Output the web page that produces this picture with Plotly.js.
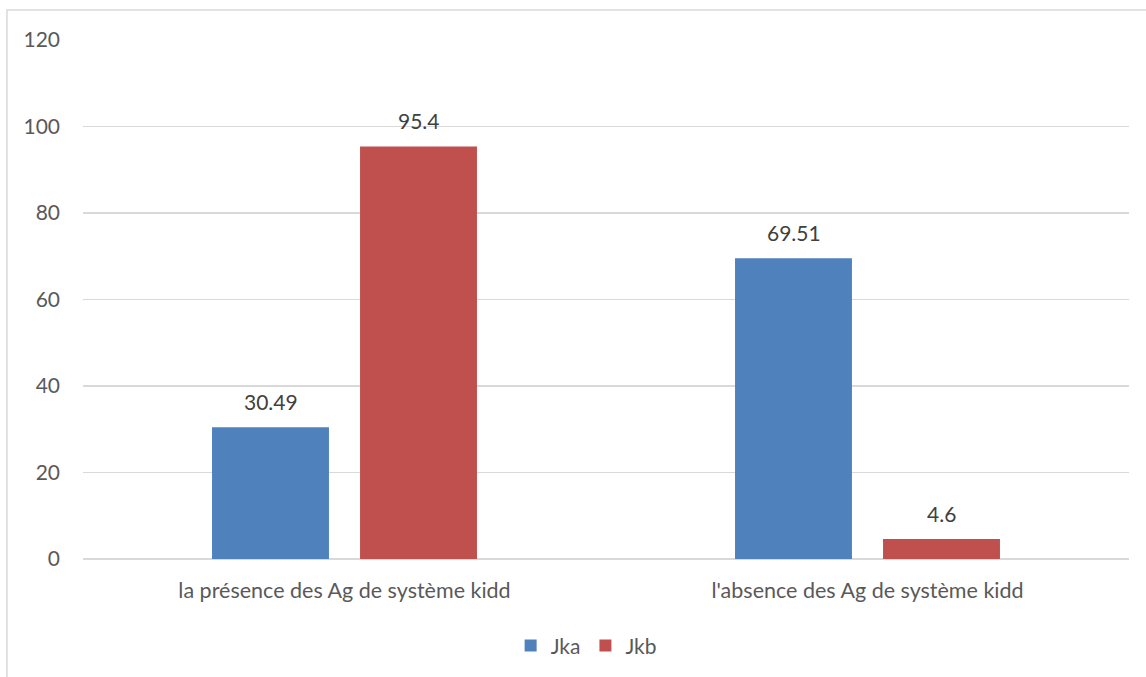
<!DOCTYPE html>
<html><head><meta charset="utf-8">
<script src="https://cdn.plot.ly/plotly-3.0.1.min.js"></script>
<style>html,body{margin:0;padding:0;background:#fff}</style>
</head><body>
<div id="chart" style="width:1146px;height:677px"></div>
<script>
const categories = ["la présence des Ag de système kidd", "l'absence des Ag de système kidd"];
const jka = [30.49, 69.51];
const jkb = [95.4, 4.6];
const seriesNames = ["Jka", "Jkb"];
const yTicks = [0, 20, 40, 60, 80, 100, 120];

const font = "Lato, 'Open Sans', sans-serif";
const txtColor = "#595959";
const lblFont = {family:font, size:21, color:"#404040"};

const traces = [
  {type:"bar", name:seriesNames[0], x:categories, y:jka, marker:{color:"#4f81bd"}},
  {type:"bar", name:seriesNames[1], x:categories, y:jkb, marker:{color:"#c0504d"}}
];

const annotations = [];
[jka, jkb].forEach((vals, s) => {
  vals.forEach((v, i) => {
    annotations.push({x:categories[i], y:v, xref:"x", yref:"y", text:String(v),
      showarrow:false, yanchor:"bottom", xshift:(s === 0 ? -74 : 74), yshift:11, font:lblFont});
  });
});

const layout = {
  width:1146, height:677,
  margin:{l:83, r:17, t:40, b:117},
  paper_bgcolor:"#fff", plot_bgcolor:"#fff",
  barmode:"group", bargap:0.434, bargroupgap:0.21,
  font:{family:font, size:21, color:txtColor},
  xaxis:{showgrid:false, zeroline:false, showline:false, ticks:"", ticklabelstandoff:16,
         tickfont:{family:font, size:21.5, color:txtColor}},
  yaxis:{range:[0,120], tickvals:yTicks, showgrid:true, gridcolor:"#d9d9d9", gridwidth:1.3,
         zeroline:true, zerolinecolor:"#d9d9d9", zerolinewidth:1.3, showline:false, ticks:"",
         ticklabelstandoff:22, tickfont:{family:font, size:21, color:txtColor}},
  showlegend:true,
  legend:{orientation:"h", x:0.481, xanchor:"center", y:-0.165, yanchor:"middle",
          font:{family:font, size:21, color:txtColor}, itemwidth:30, traceorder:"normal"},
  annotations:annotations,
  shapes:[{type:"rect", xref:"paper", yref:"paper", x0:-0.0727, x1:1.05, y0:-0.35, y1:1.0577,
           line:{color:"#d9d9d9", width:1.5}, fillcolor:"rgba(0,0,0,0)", layer:"below"}]
};

Plotly.newPlot("chart", traces, layout, {displayModeBar:false, staticPlot:true});
</script>
</body></html>
